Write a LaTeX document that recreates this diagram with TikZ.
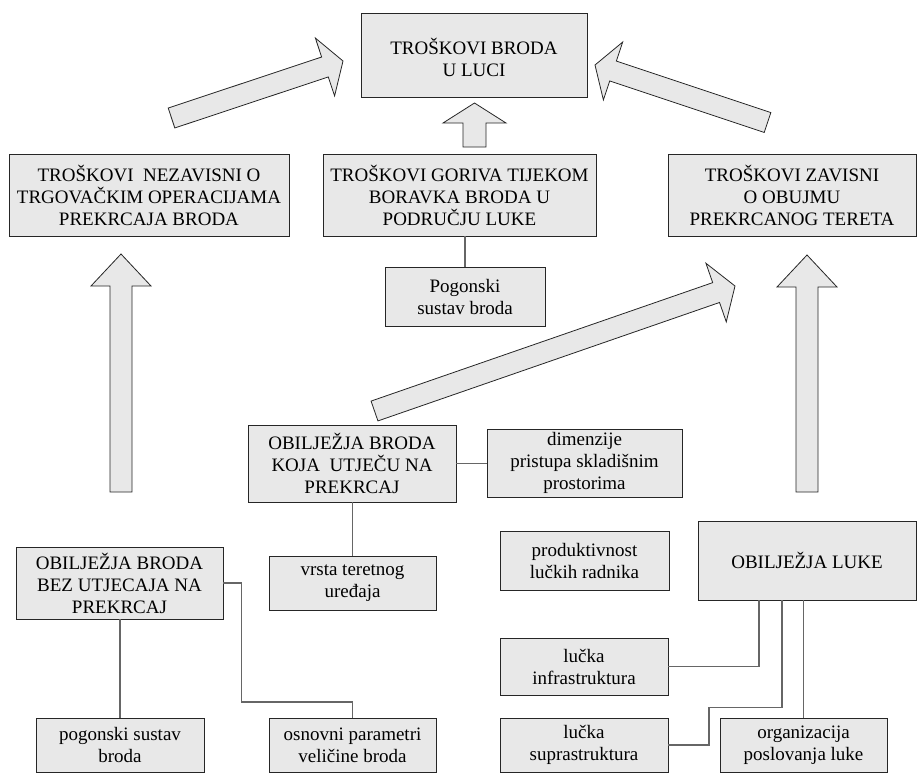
\documentclass[tikz,border=0pt]{standalone}
\usepackage{fontspec}
\setmainfont{Liberation Serif}
\usetikzlibrary{calc}
\definecolor{boxgray}{RGB}{232,232,232}
\tikzset{
  box/.style={rectangle, draw=black!85, line width=0.9pt, fill=boxgray, align=center, inner sep=0pt, font=\fontsize{19}{22}\selectfont},
  conn/.style={draw=black!60, line width=1.6pt},
  blockarr/.style={draw=black!85, line width=0.8pt, fill=boxgray, line join=miter}
}
\newcommand{\blockarrow}[5]{%
  \coordinate (hb) at ($(#2)!#5!(#1)$);
  \draw[blockarr] ($(#1)!#3!90:(#2)$) -- ($(hb)!#3!90:(#2)$) -- ($(hb)!#4!90:(#2)$) -- (#2)
    -- ($(hb)!#4!-90:(#2)$) -- ($(hb)!#3!-90:(#2)$) -- ($(#1)!#3!-90:(#2)$) -- cycle;
}
\begin{document}
\begin{tikzpicture}[x=1pt,y=-1pt]
\useasboundingbox (0,0) rectangle (917,773);

\node[box, minimum width=226pt, minimum height=84pt] (troskovi) at (474,55) {\raisebox{-6pt}[\height][\depth]{\begin{tabular}{@{}c@{}}TROŠKOVI BRODA\\U LUCI\end{tabular}}};
\node[box, minimum width=280pt, minimum height=82pt] (nezavisni) at (149,195) {TROŠKOVI\ \ NEZAVISNI O\\TRGOVAČKIM OPERACIJAMA\\PREKRCAJA BRODA};
\node[box, minimum width=273pt, minimum height=82pt] (gorivo) at (459.5,195) {TROŠKOVI GORIVA TIJEKOM\\BORAVKA BRODA U\\PODRUČJU LUKE};
\node[box, minimum width=248pt, minimum height=82pt] (zavisni) at (792,195) {TROŠKOVI ZAVISNI\\O OBUJMU\\PREKRCANOG TERETA};
\node[box, minimum width=160pt, minimum height=59pt] (pogon) at (465,296.5) {Pogonski\\sustav broda};
\node[box, minimum width=208pt, minimum height=77pt] (utjecu) at (352,463.5) {OBILJEŽJA BRODA\\KOJA\ \ UTJEČU NA\\PREKRCAJ};
\node[box, minimum width=195pt, minimum height=68pt] (dimenzije) at (584.5,463) {dimenzije\\pristupa skladišnim\\prostorima};
\node[box, minimum width=167pt, minimum height=54pt] (uredaj) at (352.5,583) {vrsta teretnog\\uređaja};
\node[box, minimum width=169pt, minimum height=59pt] (radnici) at (584.5,560.5) {produktivnost\\lučkih radnika};
\node[box, minimum width=218pt, minimum height=79pt] (luka) at (807,560.5) {OBILJEŽJA LUKE};
\node[box, minimum width=207pt, minimum height=72pt] (bezutj) at (119.5,583) {OBILJEŽJA BRODA\\BEZ UTJECAJA NA\\PREKRCAJ};
\node[box, minimum width=168pt, minimum height=54pt] (pogsustav) at (120,745) {pogonski sustav\\broda};
\node[box, minimum width=167pt, minimum height=54pt] (parametri) at (352.5,745) {osnovni parametri\\veličine broda};
\node[box, minimum width=168pt, minimum height=57pt] (infra) at (584,666.5) {lučka\\infrastruktura};
\node[box, minimum width=168pt, minimum height=54pt] (supra) at (584,745) {lučka\\suprastruktura};
\node[box, minimum width=167pt, minimum height=54pt] (organiz) at (803.5,745) {organizacija\\poslovanja luke};

\coordinate (lt) at (171.5,118); \coordinate (lh) at (343,61);
\coordinate (rt) at (767.5,122.5); \coordinate (rh) at (595,65);
\coordinate (mt) at (474.5,147); \coordinate (mh) at (474.5,103);
\coordinate (dt) at (374.5,411); \coordinate (dh) at (735,286);
\coordinate (vlt) at (121,492); \coordinate (vlh) at (121,254);
\coordinate (vrt) at (807,492); \coordinate (vrh) at (807,255);

\blockarrow{lt}{lh}{10.5pt}{30.5pt}{19pt}
\blockarrow{rt}{rh}{10.5pt}{30.5pt}{19pt}
\blockarrow{mt}{mh}{11.5pt}{31.5pt}{20pt}
\blockarrow{dt}{dh}{10.5pt}{31pt}{20pt}
\blockarrow{vlt}{vlh}{11pt}{30pt}{32pt}
\blockarrow{vrt}{vrh}{11pt}{30pt}{32pt}

\draw[conn] (gorivo.south -| pogon.north) -- (pogon.north);
\draw[conn] (utjecu.east) -- (utjecu.east -| dimenzije.west);
\draw[conn] (utjecu.south -| uredaj.north) -- (uredaj.north);
\draw[conn] (bezutj.south -| pogsustav.north) -- (pogsustav.north);
\draw[conn] (bezutj.east) -- ++(18,0) -- ++(0,119) -| (parametri.north);
\draw[conn] ([xshift=-48pt]luka.south) |- (infra.east);
\draw[conn] ([xshift=-25pt]luka.south) -- ++(0,107) -- ++(-73,0) |- (supra.east);
\draw[conn] (luka.south -| organiz.north) -- (organiz.north);

\end{tikzpicture}
\end{document}
